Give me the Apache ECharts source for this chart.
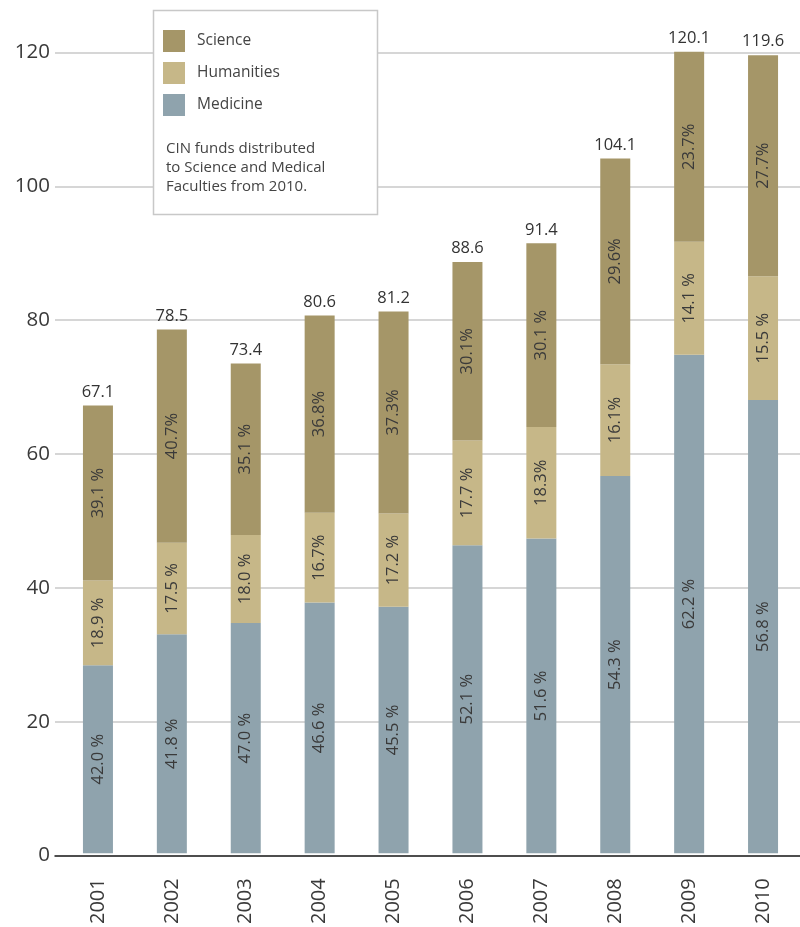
<!DOCTYPE html>
<html>
<head>
<meta charset="utf-8">
<script src="https://cdn.jsdelivr.net/npm/echarts@6/dist/echarts.min.js"></script>
<style>
  html, body { margin: 0; padding: 0; background: #fff; }
  #chart { width: 800px; height: 927px; }
</style>
</head>
<body>
<div id="chart"></div>
<script>
// Funding by faculty, 2001–2010 (stacked), with share of each year's total
const years = ['2001', '2002', '2003', '2004', '2005', '2006', '2007', '2008', '2009', '2010'];
const totals = [67.1, 78.5, 73.4, 80.6, 81.2, 88.6, 91.4, 104.1, 120.1, 119.6];

const medicine   = [28.18, 32.81, 34.50, 37.56, 36.95, 46.16, 47.16, 56.53, 74.70, 67.93];
const humanities = [12.68, 13.74, 13.21, 13.46, 13.97, 15.68, 16.73, 16.76, 16.93, 18.54];
const science    = [26.24, 31.95, 25.69, 29.58, 30.28, 26.76, 27.51, 30.81, 28.47, 33.13];

const medicinePct   = ['42.0 %', '41.8 %', '47.0 %', '46.6 %', '45.5 %', '52.1 %', '51.6 %', '54.3 %', '62.2 %', '56.8 %'];
const humanitiesPct = ['18.9 %', '17.5 %', '18.0 %', '16.7%', '17.2 %', '17.7 %', '18.3%', '16.1%', '14.1 %', '15.5 %'];
const sciencePct    = ['39.1 %', '40.7%', '35.1 %', '36.8%', '37.3%', '30.1%', '30.1 %', '29.6%', '23.7%', '27.7%'];

const yTicks = { min: 0, max: 120, interval: 20 };

const FONT = '"Open Sans", "Noto Sans", sans-serif';
const C_SCI = '#a59668';
const C_HUM = '#c6b788';
const C_MED = '#8fa3ad';

const chart = echarts.init(document.getElementById('chart'), null, { renderer: 'canvas' });

const pctLabel = (arr) => ({
  show: true,
  position: 'inside',
  rotate: 90,
  fontFamily: FONT,
  fontSize: 16.5,
  color: '#3a3a3a',
  formatter: (p) => arr[p.dataIndex]
});

chart.setOption({
  backgroundColor: '#ffffff',
  animation: false,
  textStyle: { fontFamily: FONT },
  grid: [
    // frame carrying the value axis and gridlines
    { left: 55, right: 0, top: 52.5, height: 803, containLabel: false },
    // frame carrying the bars
    { left: 61, width: 740, top: 52.5, height: 803, containLabel: false }
  ],
  xAxis: [
    {
      gridIndex: 0, type: 'category', data: years,
      axisLine: { show: true, lineStyle: { color: '#222', width: 1.5 } },
      axisTick: { show: false }, axisLabel: { show: false }, splitLine: { show: false }
    },
    {
      gridIndex: 1, type: 'category', data: years,
      axisLine: { show: false }, axisTick: { show: false },
      axisLabel: { rotate: 90, fontSize: 20, color: '#3a3a3a', margin: 25, fontFamily: FONT }
    }
  ],
  yAxis: [
    {
      gridIndex: 0, type: 'value', min: yTicks.min, max: yTicks.max, interval: yTicks.interval,
      axisLine: { show: false }, axisTick: { show: false },
      axisLabel: { fontSize: 20.5, color: '#3a3a3a', margin: 5, fontFamily: FONT },
      splitLine: { lineStyle: { color: '#c8c8c8', width: 1.5 } }
    },
    {
      gridIndex: 1, type: 'value', min: yTicks.min, max: yTicks.max, interval: yTicks.interval,
      show: false, splitLine: { show: false }
    }
  ],
  legend: {
    orient: 'vertical',
    left: 163, top: 30,
    padding: 0,
    itemWidth: 22, itemHeight: 22, itemGap: 10,
    icon: 'rect',
    z: 20,
    data: ['Science', 'Humanities', 'Medicine'],
    textStyle: { fontSize: 15.5, color: '#444', fontFamily: FONT, padding: [0, 0, 0, 7] }
  },
  graphic: [
    {
      type: 'rect', z: 10,
      shape: { x: 153.5, y: 10.5, width: 224, height: 204 },
      style: { fill: '#ffffff', stroke: '#c8c8c8', lineWidth: 1.5 }
    },
    {
      type: 'text', z: 20, left: 166, top: 139,
      style: {
        text: 'CIN funds distributed\nto Science and Medical\nFaculties from 2010.',
        font: '15px ' + FONT, fill: '#444', lineHeight: 19
      }
    }
  ],
  series: [
    {
      name: 'Medicine', type: 'bar', stack: 'total', xAxisIndex: 1, yAxisIndex: 1,
      data: medicine, barWidth: 30, itemStyle: { color: C_MED }, clip: false,
      label: pctLabel(medicinePct)
    },
    {
      name: 'Humanities', type: 'bar', stack: 'total', xAxisIndex: 1, yAxisIndex: 1,
      data: humanities, barWidth: 30, itemStyle: { color: C_HUM }, clip: false,
      label: pctLabel(humanitiesPct)
    },
    {
      name: 'Science', type: 'bar', stack: 'total', xAxisIndex: 1, yAxisIndex: 1,
      data: science, barWidth: 30, itemStyle: { color: C_SCI }, clip: false,
      label: pctLabel(sciencePct)
    },
    {
      // year totals written above each stack
      name: 'Total', type: 'bar', stack: 'total', xAxisIndex: 1, yAxisIndex: 1,
      data: years.map(() => 0), barWidth: 30, silent: true, clip: false,
      itemStyle: { color: 'transparent' },
      label: {
        show: true, position: 'top', distance: 5,
        fontSize: 16.5, color: '#333', fontFamily: FONT,
        formatter: (p) => totals[p.dataIndex].toFixed(1)
      }
    }
  ]
});
</script>
</body>
</html>
